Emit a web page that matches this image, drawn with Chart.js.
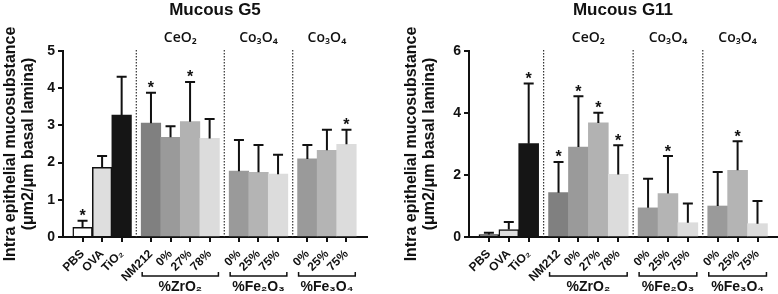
<!DOCTYPE html>
<html>
<head>
<meta charset="utf-8">
<script src="https://cdn.jsdelivr.net/npm/chart.js@4.4.0/dist/chart.umd.min.js"></script>
<style>
  body { margin: 0; background: #fff; }
  #wrap { position: relative; width: 778px; height: 294px; }
  .box { position: absolute; top: 0; width: 389px; height: 294px; }
</style>
</head>
<body>
<div id="wrap">
  <div class="box" style="left:0"><canvas id="g5"></canvas></div>
  <div class="box" style="left:389px"><canvas id="g11"></canvas></div>
</div>
<script>
// categories
const labels = ['PBS', 'OVA', 'TiO₂', 'NM212', '0%', '27%', '78%', '0%', '25%', '75%', '0%', '25%', '75%'];
const groupSizes = [3, 4, 3, 3];
const groupTitles = ['', 'CeO₂', 'Co₃O₄', 'Co₃O₄'];
const bracketLabels = ['', '%ZrO₂', '%Fe₂O₃', '%Fe₃O₄'];

// Mucous G5
const g5Mean = [0.26, 1.87, 3.28, 3.06, 2.68, 3.10, 2.65, 1.77, 1.74, 1.69, 2.10, 2.33, 2.49];
const g5Sd   = [0.18, 0.31, 1.03, 0.82, 0.30, 1.07, 0.52, 0.84, 0.73, 0.52, 0.37, 0.55, 0.39];
const g5Sig  = [1, 0, 0, 1, 0, 1, 0, 0, 0, 0, 0, 0, 1];

// Mucous G11
const g11Mean = [0.08, 0.24, 3.01, 1.43, 2.90, 3.68, 2.02, 0.94, 1.40, 0.46, 1.00, 2.15, 0.43];
const g11Sd   = [0.06, 0.24, 1.94, 0.99, 1.64, 0.33, 0.94, 0.94, 1.21, 0.62, 1.10, 0.94, 0.73];
const g11Sig  = [0, 0, 1, 1, 1, 1, 1, 0, 1, 0, 0, 1, 0];

const g5Colors  = ['#ffffff', '#dedede', '#151515', '#808080', '#9a9a9a', '#b2b2b2', '#dcdcdc', '#9a9a9a', '#b4b4b4', '#dcdcdc', '#9a9a9a', '#b4b4b4', '#dcdcdc'];
const g11Colors = ['#7a7a7a'].concat(g5Colors.slice(1));

const INK = '#111';
const FONT = '"Liberation Sans", Arial, sans-serif';

// x slot of every bar: bars touch inside a group, half a bar of gap between groups
function slotPositions() {
    const xs = [];
    let x = 1;
    groupSizes.forEach(function(n, gi) {
        if (gi > 0) x += 0.5;
        for (let i = 0; i < n; i++) { xs.push(x); x += 1; }
    });
    return xs;
}
const slots = slotPositions();

function groupRanges() {
    const out = [];
    let k = 0;
    groupSizes.forEach(function(n) { out.push([k, k + n - 1]); k += n; });
    return out;
}

const extras = {
    id: 'extras',
    afterDatasetsDraw(chart, args, opts) {
        const ctx = chart.ctx;
        const xs = chart.scales.x, ys = chart.scales.y;
        const area = chart.chartArea;
        const meta = chart.getDatasetMeta(0);
        const ranges = groupRanges();
        ctx.save();

        // error bars + stars
        ctx.strokeStyle = INK;
        ctx.fillStyle = INK;
        ctx.lineWidth = 2;
        meta.data.forEach(function(bar, i) {
            const top = ys.getPixelForValue(opts.mean[i] + opts.sd[i]);
            ctx.beginPath();
            ctx.moveTo(bar.x, bar.y);
            ctx.lineTo(bar.x, top);
            ctx.moveTo(bar.x - 5, top);
            ctx.lineTo(bar.x + 5, top);
            ctx.stroke();
            if (opts.sig[i]) {
                ctx.font = 'bold 16px ' + FONT;
                ctx.textAlign = 'center';
                ctx.textBaseline = 'alphabetic';
                ctx.fillText('*', bar.x, top + 0.5);
            }
        });

        // dotted separators between groups
        ctx.setLineDash([1.5, 1.5]);
        ctx.lineWidth = 1.2;
        ctx.strokeStyle = '#333';
        for (let g = 1; g < ranges.length; g++) {
            const px = xs.getPixelForValue(slots[ranges[g][0]] - 0.75);
            ctx.beginPath();
            ctx.moveTo(px, area.top - 1);
            ctx.lineTo(px, area.bottom);
            ctx.stroke();
        }
        ctx.setLineDash([]);

        // title
        ctx.fillStyle = INK;
        ctx.textAlign = 'center';
        ctx.textBaseline = 'middle';
        ctx.font = 'bold 17px ' + FONT;
        ctx.fillText(opts.title, (area.left + area.right) / 2, 10);

        // group titles and brackets
        ranges.forEach(function(r, g) {
            const a = slots[r[0]], b = slots[r[1]];
            if (groupTitles[g]) {
                ctx.font = '600 14px "Open Sans", sans-serif';
                ctx.fillText(groupTitles[g], xs.getPixelForValue((a + b) / 2), 38);
            }
            if (bracketLabels[g]) {
                const x1 = xs.getPixelForValue(a - 0.45), x2 = xs.getPixelForValue(b + 0.45);
                const by = area.bottom + 39;
                ctx.lineWidth = 1.5;
                ctx.strokeStyle = INK;
                ctx.beginPath();
                ctx.moveTo(x1, by - 4);
                ctx.lineTo(x1, by);
                ctx.lineTo(x2, by);
                ctx.lineTo(x2, by - 4);
                ctx.stroke();
                ctx.font = 'bold 14px ' + FONT;
                ctx.fillText(bracketLabels[g], (x1 + x2) / 2, area.bottom + 50);
            }
        });
        ctx.restore();
    }
};

function makeChart(id, mean, sd, sig, colors, title, yMax, yStep, xMax, pad, yWidth) {
    const ctx = document.getElementById(id).getContext('2d');
    return new Chart(ctx, {
        type: 'bar',
        data: {
            datasets: [{
                data: mean.map(function(v, i) { return { x: slots[i], y: v }; }),
                backgroundColor: colors,
                borderColor: colors.map(function(c, i) { return i < 2 ? INK : c; }),
                borderWidth: colors.map(function(c, i) { return i < 2 ? 1.5 : 0; }),
                barPercentage: 1,
                categoryPercentage: 1
            }]
        },
        options: {
            responsive: true,
            maintainAspectRatio: false,
            animation: false,
            layout: { padding: pad },
            plugins: {
                legend: { display: false },
                tooltip: { enabled: false },
                extras: { mean: mean, sd: sd, sig: sig, title: title }
            },
            scales: {
                x: {
                    type: 'linear',
                    min: 0,
                    max: xMax,
                    offset: false,
                    afterBuildTicks: function(s) { s.ticks = slots.map(function(v) { return { value: v }; }); },
                    afterFit: function(s) { s.height = 294 - 237; },
                    ticks: {
                        autoSkip: false,
                        maxRotation: 45,
                        minRotation: 45,
                        padding: 5,
                        color: INK,
                        font: { family: FONT, weight: 'bold', size: 12 },
                        callback: function(v, i) { return labels[i]; }
                    },
                    grid: { drawOnChartArea: false, offset: false, tickLength: 5, color: INK, lineWidth: 2 },
                    border: { color: INK, width: 2 }
                },
                y: {
                    min: 0,
                    max: yMax,
                    afterFit: function(s) { s.width = yWidth; },
                    ticks: { stepSize: yStep, padding: 3, color: INK, font: { family: FONT, weight: 'bold', size: 14 } },
                    grid: { drawOnChartArea: false, tickLength: 5, color: INK, lineWidth: 2 },
                    border: { color: INK, width: 2 },
                    title: {
                        display: true,
                        text: ['Intra epithelial mucosubstance', '(μm2/μm basal lamina)'],
                        color: INK,
                        padding: 0,
                        font: { family: FONT, weight: 'bold', size: 16, lineHeight: 1.12 }
                    }
                }
            }
        },
        plugins: [extras]
    });
}

makeChart('g5', g5Mean, g5Sd, g5Sig, g5Colors, 'Mucous G5', 5, 1, 15.55,
    { left: 2, top: 51, right: 22, bottom: 0 }, 61);
makeChart('g11', g11Mean, g11Sd, g11Sig, g11Colors, 'Mucous G11', 6, 2, 15.48,
    { left: 14, top: 51, right: 1, bottom: 0 }, 66);
</script>
</body>
</html>
